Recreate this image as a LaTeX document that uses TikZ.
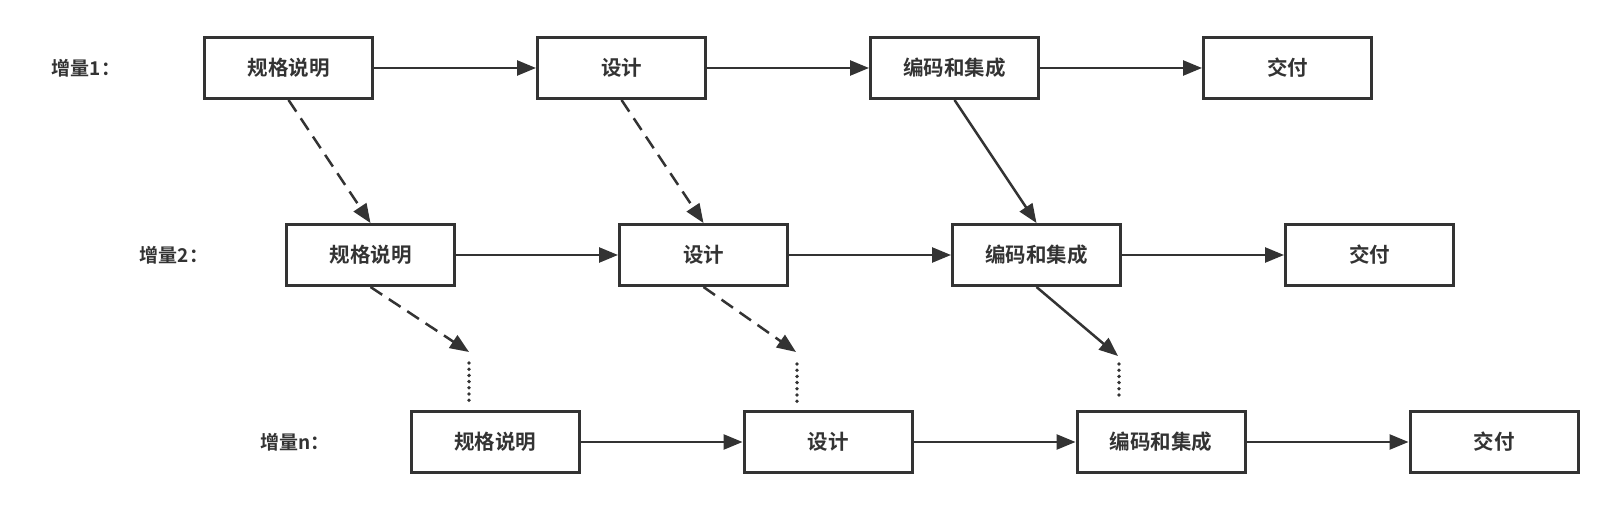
\documentclass[tikz,border=0pt]{standalone}
\usepackage{fontspec}
\newfontfamily\cjk{Noto Sans CJK SC}[BoldFont={Noto Sans CJK SC Bold}]
\usetikzlibrary{arrows.meta}
\definecolor{ink}{HTML}{333333}
\tikzset{
  box/.style={draw=ink, line width=3pt, minimum width=168pt, minimum height=61pt, inner sep=0pt, font=\cjk\bfseries\fontsize{20.5pt}{24pt}\selectfont, text=ink},
  lbl/.style={font=\cjk\bfseries\fontsize{19pt}{22pt}\selectfont, text=ink, inner sep=0pt},
  arr/.style={draw=ink, line width=2.5pt, -{Triangle[length=19pt,width=15pt]}},
  darr/.style={arr, dash pattern=on 14pt off 8pt},
  dots/.style={draw=ink, line width=3.8pt, line cap=round, dash pattern=on 0pt off 6.2pt}
}
\begin{document}
\begin{tikzpicture}[x=1pt,y=-1pt]
\useasboundingbox (0,0) rectangle (1617,510);
% row 1
\node[lbl] (l1) at (86,68) {增量1：};
\node[box] (a1) at (288.5,68) {规格说明};
\node[box] (b1) at (621.5,68) {设计};
\node[box] (c1) at (954.5,68) {编码和集成};
\node[box] (e1) at (1287.5,68) {交付};
% row 2
\node[lbl] (l2) at (174,255) {增量2：};
\node[box] (a2) at (370.5,255) {规格说明};
\node[box] (b2) at (703.5,255) {设计};
\node[box] (c2) at (1036.5,255) {编码和集成};
\node[box] (e2) at (1369.5,255) {交付};
% row 3
\node[lbl] (l3) at (295,442) {增量n：};
\node[box] (a3) at (495,442) {规格说明};
\node[box] (b3) at (828,442) {设计};
\node[box] (c3) at (1161,442) {编码和集成};
\node[box] (e3) at (1494,442) {交付};
% horizontal
\foreach \r in {1,2,3}{
  \draw[arr] (a\r.east) -- (b\r.west);
  \draw[arr] (b\r.east) -- (c\r.west);
  \draw[arr] (c\r.east) -- (e\r.west);
}
% row1 -> row2
\draw[darr] (a1.south) -- (a2.north);
\draw[darr] (b1.south) -- (b2.north);
\draw[arr] (c1.south) -- (c2.north);
% row2 -> dots
\coordinate (p1) at (469,352);
\coordinate (p2) at (796,352);
\coordinate (p3) at (1118,356);
\coordinate (q1a) at (469,363); \coordinate (q1b) at (469,401);
\coordinate (q2a) at (797,364); \coordinate (q2b) at (797,402);
\coordinate (q3a) at (1119,364); \coordinate (q3b) at (1119,400);
\draw[darr] (a2.south) -- (p1);
\draw[darr] (b2.south) -- (p2);
\draw[arr] (c2.south) -- (p3);
\draw[dots] (q1a) -- (q1b);
\draw[dots] (q2a) -- (q2b);
\draw[dots] (q3a) -- (q3b);
\end{tikzpicture}
\end{document}
